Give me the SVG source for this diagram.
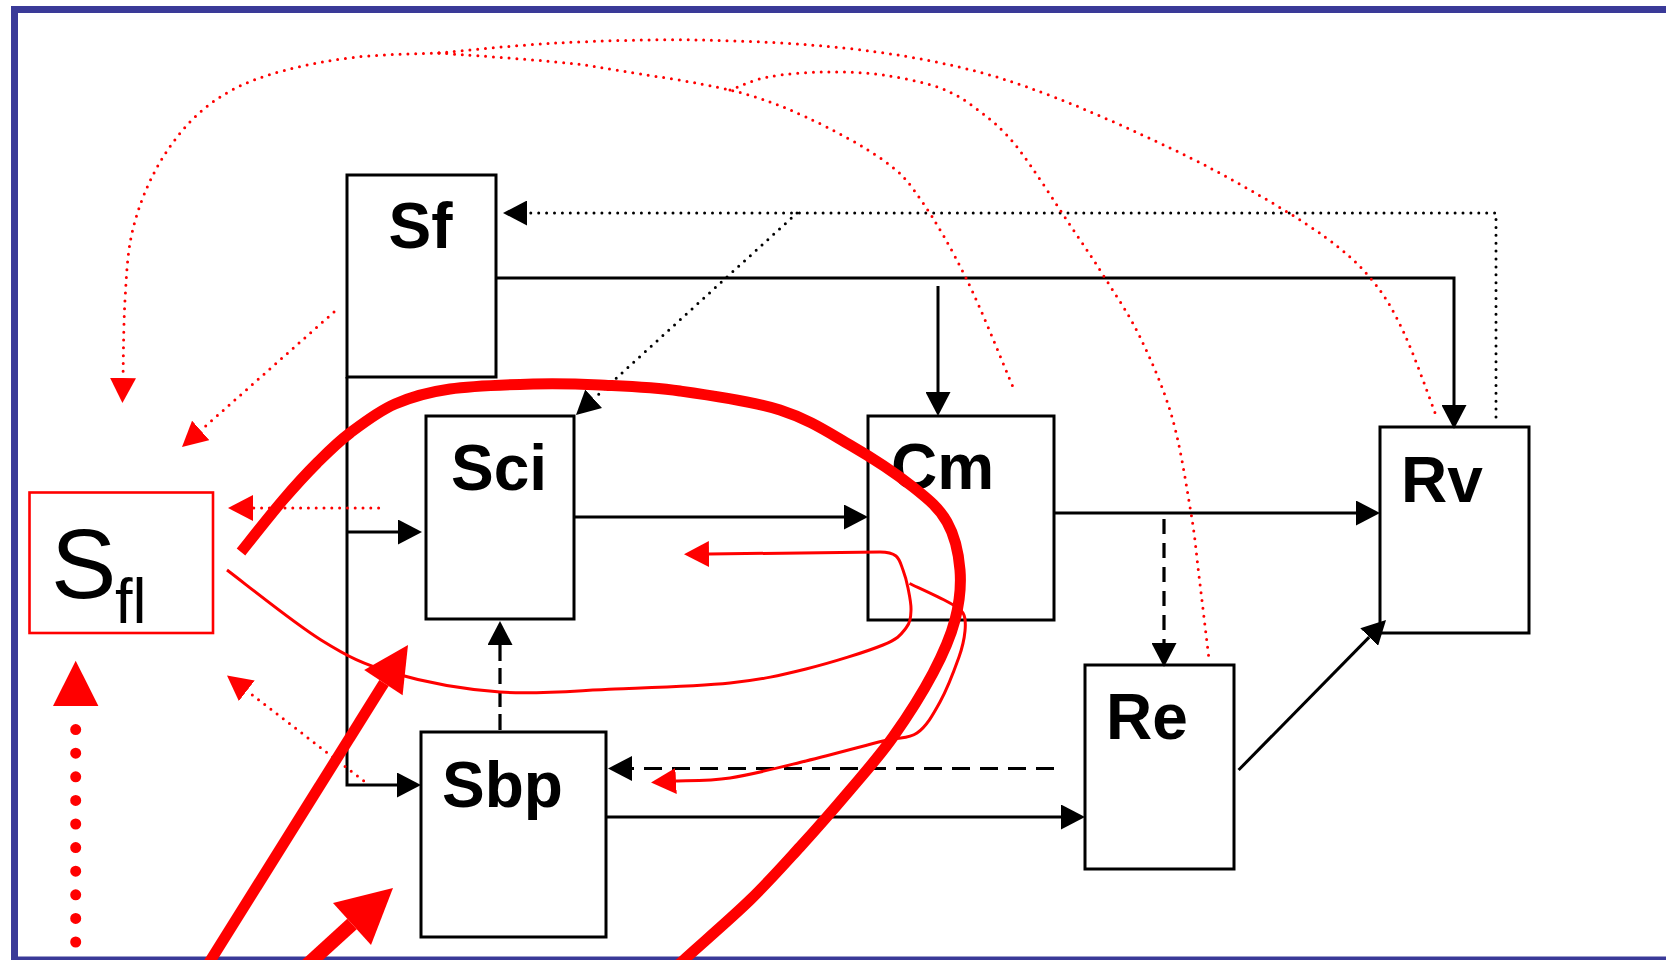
<svg xmlns="http://www.w3.org/2000/svg" width="1666" height="960" viewBox="0 0 1666 960">
<defs>
<style>
.box{fill:#fff;stroke:#000;stroke-width:3}
.lbl{font-family:"Liberation Sans",Arial,sans-serif;font-weight:bold;font-size:64px;fill:#000}
.k{fill:none;stroke:#000;stroke-width:3}
.kd{fill:none;stroke:#000;stroke-width:3.2}
.kdot{fill:none;stroke:#000;stroke-width:3;stroke-linecap:round;stroke-dasharray:0 7.9}
.rdot{fill:none;stroke:#f00;stroke-width:3;stroke-linecap:round;stroke-dasharray:0 7.8}
.r{fill:none;stroke:#f00;stroke-width:3}
.rthick{fill:none;stroke:#f00;stroke-width:11}
</style>
<marker id="ab" markerUnits="userSpaceOnUse" markerWidth="24" markerHeight="25" viewBox="0 0 24 25" refX="0" refY="12.5" orient="auto"><path d="M0,0L24,12.5L0,25z" fill="#000"/></marker>
<marker id="ar" markerUnits="userSpaceOnUse" markerWidth="25" markerHeight="26" viewBox="0 0 25 26" refX="0" refY="13" orient="auto"><path d="M0,0L25,13L0,26z" fill="#f00"/></marker>
</defs>
<rect x="0" y="0" width="1666" height="960" fill="#fff"/>
<rect x="14.5" y="9.5" width="1700" height="950.5" fill="none" stroke="#3a3a98" stroke-width="7"/>

<g id="node-Sf"><rect class="box" x="347" y="175" width="149" height="202"/><text class="lbl" x="388.5" y="248">Sf</text></g>
<g id="node-Sci"><rect class="box" x="426" y="416" width="148" height="203"/><text class="lbl" x="451" y="490">Sci</text></g>
<g id="node-Cm"><rect class="box" x="868" y="416" width="186" height="204"/><text class="lbl" x="891" y="489">Cm</text></g>
<g id="node-Rv"><rect class="box" x="1380" y="427" width="149" height="206"/><text class="lbl" x="1401" y="502">Rv</text></g>
<g id="node-Re"><rect class="box" x="1085" y="665" width="149" height="204"/><text class="lbl" x="1106" y="739">Re</text></g>
<g id="node-Sbp"><rect class="box" x="421" y="732" width="185" height="205"/><text class="lbl" x="442" y="807">Sbp</text></g>
<g id="node-Sfl"><rect x="29.5" y="492.5" width="183.5" height="140.5" fill="#fff" stroke="#f00" stroke-width="2.6"/><text x="51" y="598" font-family="'Liberation Sans',Arial,sans-serif" font-size="98" fill="#000">S</text><text x="115" y="623" font-family="'Liberation Sans',Arial,sans-serif" font-size="63" fill="#000">fl</text></g>

<g id="connectors">
<path class="k" d="M496,278H1454V405" marker-end="url(#ab)"/>
<path class="k" d="M938,286V392" marker-end="url(#ab)"/>
<path class="k" d="M347,377V785H397" marker-end="url(#ab)"/>
<path class="k" d="M347,532H398" marker-end="url(#ab)"/>
<path class="k" d="M574,517H844" marker-end="url(#ab)"/>
<path class="k" d="M1054,513H1356" marker-end="url(#ab)"/>
<path class="k" d="M606,817H1061" marker-end="url(#ab)"/>
<path class="k" d="M1238.6,770L1369.2,637.1" marker-end="url(#ab)"/>
<path class="kd" d="M1164,519V643" stroke-dasharray="15 9" marker-end="url(#ab)"/>
<path class="kd" d="M1054,768.5H632" stroke-dasharray="18 10" marker-end="url(#ab)"/>
<path class="kd" d="M500,730V645" stroke-dasharray="16 7" marker-end="url(#ab)"/>
<path class="kdot" d="M1496,417V213H527" marker-end="url(#ab)"/>
<path class="kdot" d="M797,213L593.7,398.8" marker-end="url(#ab)"/>

<path class="rdot" d="M439,53 C425.3,53.7 382.5,54.2 357,57 C331.5,59.8 306.8,64.5 286,70 C265.2,75.5 248.2,81.2 232,90 C215.8,98.8 202,109.2 189,123 C176,136.8 163.5,154.7 154,173 C144.5,191.3 136.8,211.8 132,233 C127.2,254.2 126.5,275.8 125,300 C123.5,324.2 123.3,365 123,378" marker-end="url(#ar)"/>
<path class="rdot" d="M439,53 C458.7,51.3 513.5,45.2 557,43 C600.5,40.8 652.2,39.2 700,40 C747.8,40.8 800.8,43.5 844,48 C887.2,52.5 924,58.8 959,67 C994,75.2 1019.2,83.7 1054,97 C1088.8,110.3 1135.3,131.5 1168,147 C1200.7,162.5 1223.8,175 1250,190 C1276.2,205 1304.7,222 1325,237 C1345.3,252 1358.8,264 1372,280 C1385.2,296 1393.2,310 1404,333 C1414.8,356 1431.5,403.8 1437,418"/>
<path class="rdot" d="M439,53 C458.7,54.5 527.7,59.2 557,62 C586.3,64.8 586.2,65.3 615,70 C643.8,74.7 698.2,82.2 730,90 C761.8,97.8 780.5,105.3 806,117 C831.5,128.7 863.8,146.2 883,160 C902.2,173.8 907,180 921,200 C935,220 951.7,248.8 967,280 C982.3,311.2 1005.3,369.2 1013,387"/>
<path class="rdot" d="M730,90 C736.3,87.8 752.2,80 768,77 C783.8,74 805.8,72.3 825,72 C844.2,71.7 863.8,72.3 883,75 C902.2,77.7 924.2,82.2 940,88 C955.8,93.8 965.2,100.2 978,110 C990.8,119.8 1001.7,127.8 1017,147 C1032.3,166.2 1055.3,203.2 1070,225 C1084.7,246.8 1093.3,259.3 1105,278 C1116.7,296.7 1128.8,313.8 1140,337 C1151.2,360.2 1163.5,387.7 1172,417 C1180.5,446.3 1186.5,486.5 1191,513 C1195.5,539.5 1196,551.7 1199,576 C1202,600.3 1207.3,645.2 1209,659"/>
<path class="rdot" d="M334,312L200.7,430.4" marker-end="url(#ar)"/>
<path class="rdot" d="M378.6,508H253" marker-end="url(#ar)"/>
<path class="rdot" d="M363.6,780.7L246.8,690.8" marker-end="url(#ar)"/>
<path d="M75.7,942V728" fill="none" stroke="#f00" stroke-width="11" stroke-linecap="round" stroke-dasharray="0 23.6"/>
<path d="M75.7,660.7L98.4,706L53,706z" fill="#f00"/>

<path class="rthick" d="M241,552 C248,543.3 270.3,514.8 283,500 C295.7,485.2 305.8,474.2 317,463 C328.2,451.8 337,442.8 350,433 C363,423.2 378.3,411.3 395,404 C411.7,396.7 427,392.3 450,389 C473,385.7 508,384.7 533,384 C558,383.3 575.5,383.8 600,385 C624.5,386.2 650,386.8 680,391 C710,395.2 751.7,401 780,410 C808.3,419 827.8,432.2 850,445 C872.2,457.8 896.8,474.2 913,487 C929.2,499.8 939.2,508.2 947,522 C954.8,535.8 958.7,553.7 960,570 C961.3,586.3 959.5,602.8 955,620 C950.5,637.2 943.3,653.5 933,673 C922.7,692.5 906.8,717.5 893,737 C879.2,756.5 865.5,771.7 850,790 C834.5,808.3 816.7,828.7 800,847 C783.3,865.3 768.8,881.7 750,900 C731.2,918.3 699.3,945.7 687,957 L674,969"/>
<path class="r" d="M227,570 C242.7,581.7 293.3,622.8 321,640 C348.7,657.2 363.2,664.3 393,673 C422.8,681.7 463,689.3 500,692 C537,694.7 576.7,690.5 615,689 C653.3,687.5 698.2,686.3 730,683 C761.8,679.7 780.5,675.3 806,669 C831.5,662.7 866.3,651.8 883,645 C899.7,638.2 901.3,633.8 906,628 C910.7,622.2 910.7,616.7 911,610 C911.3,603.3 909.3,594.7 908,588 C906.7,581.3 905,575.3 903,570 C901,564.7 899.8,559 896,556 C892.2,553 886,552 880,552 L709,554" marker-end="url(#ar)"/>
<path class="r" d="M909.5,583.5 C915.9,586.6 939.1,597.1 948,602 C956.9,606.9 960.2,608.2 963,613 C965.8,617.8 965.7,623.7 965,631 C964.3,638.3 963.2,645.2 959,657 C954.8,668.8 947,689.3 940,702 C933,714.7 926.5,726.5 917,733 C907.5,739.5 901.5,736.3 883,741 C864.5,745.7 831.5,754.8 806,761 C780.5,767.2 751.7,774.7 730,778 C708.3,781.3 685,780.5 676,781" marker-end="url(#ar)"/>

<path d="M207,966L384,683" fill="none" stroke="#f00" stroke-width="11"/>
<path d="M408,645L402.6,695.3L364.2,670.1z" fill="#f00"/>
<path d="M306,966L352,924" fill="none" stroke="#f00" stroke-width="14"/>
<path d="M393,888L371,945L333,903z" fill="#f00"/>
</g>
</svg>
